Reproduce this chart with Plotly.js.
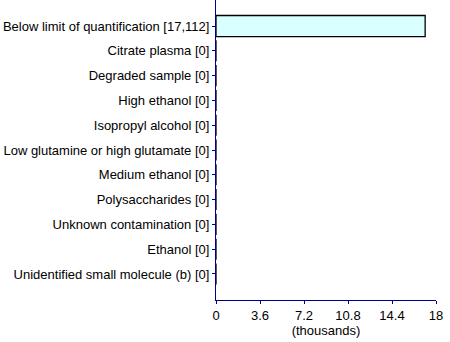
<!DOCTYPE html>
<html><head><meta charset="utf-8">
<script src="https://cdn.plot.ly/plotly-3.0.1.min.js"></script>
<style>body{margin:0;padding:0;background:#fff}#chart{width:450px;height:342px}</style>
</head><body><div id="chart"></div>
<script>
var categories = ["Below limit of quantification","Citrate plasma","Degraded sample","High ethanol","Isopropyl alcohol","Low glutamine or high glutamate","Medium ethanol","Polysaccharides","Unknown contamination","Ethanol","Unidentified small molecule (b)"];
var counts = [17112,0,0,0,0,0,0,0,0,0,0];
var xTicks = [0,3.6,7.2,10.8,14.4,18];

var labels = categories.map(function(c,i){return c+" ["+counts[i].toLocaleString("en-US")+"]";});
var xs = counts.map(function(v){return v/1000;});
var n = categories.length;

Plotly.newPlot("chart",[{
  type:"bar", orientation:"h",
  x: xs, y: labels,
  width: 0.85,
  marker:{color:"#d9ffff", line:{color:"#000000", width:1.3}},
  hoverinfo:"none"
}],{
  width:450, height:342,
  margin:{l:216,r:14,t:0,b:42},
  paper_bgcolor:"#fff", plot_bgcolor:"#fff",
  font:{family:"Liberation Sans, Arial, sans-serif", size:13, color:"#000"},
  showlegend:false,
  xaxis:{range:[0,18], tickvals:xTicks, ticktext:xTicks.map(String), showgrid:false, zeroline:false,
    showline:true, linecolor:"#00008b", linewidth:1, ticks:"outside", ticklen:3, tickcolor:"#00008b",
    title:{text:"(thousands)", standoff:0, font:{size:13}}},
  yaxis:{type:"category", range:[n-1+1.05,-1.05], showgrid:false, zeroline:false,
    showline:true, linecolor:"#00008b", linewidth:1, ticks:"outside", ticklen:3, tickcolor:"#00008b"}
},{displayModeBar:false, staticPlot:true});
</script></body></html>
